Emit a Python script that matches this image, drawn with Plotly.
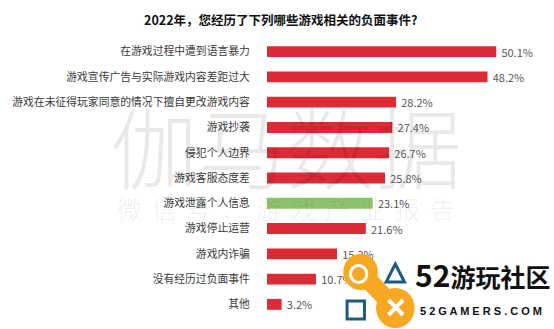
import plotly.graph_objects as go

categories = [
    "在游戏过程中遭到语言暴力",
    "游戏宣传广告与实际游戏内容差距过大",
    "游戏在未征得玩家同意的情况下擅自更改游戏内容",
    "游戏抄袭",
    "侵犯个人边界",
    "游戏客服态度差",
    "游戏泄露个人信息",
    "游戏停止运营",
    "游戏内诈骗",
    "没有经历过负面事件",
    "其他",
]
values = [50.1, 48.2, 28.2, 27.4, 26.7, 25.8, 23.1, 21.6, 15.3, 10.7, 3.2]
highlight = "游戏泄露个人信息"
title_text = "2022年，您经历了下列哪些游戏相关的负面事件?"

RED = "#DC2A37"
GREEN = "#8DC26A"
colors = [GREEN if c == highlight else RED for c in categories]

FONT = "Noto Sans CJK SC"
W, H = 554, 329
ML, MR, MT, MB = 257, 13, 39, 12
PW, PH = W - ML - MR, H - MT - MB


def px(x):
    return (x - ML) / PW


def py(y):
    return (H - MB - y) / PH


fig = go.Figure(
    go.Bar(
        x=values,
        y=categories,
        orientation="h",
        width=0.43,
        marker=dict(color=colors, line=dict(width=0)),
        text=["\u2009" + f"{v:.1f}%" for v in values],
        textposition="outside",
        constraintext="none",
        cliponaxis=False,
        textfont=dict(family=FONT, size=11, color="#555555"),
        hoverinfo="skip",
    )
)

fig.update_layout(
    width=W,
    height=H,
    margin=dict(l=ML, r=MR, t=MT, b=MB, pad=0),
    paper_bgcolor="white",
    plot_bgcolor="white",
    showlegend=False,
    xaxis=dict(range=[0, PW / 4.742], visible=False, fixedrange=True),
    yaxis=dict(
        autorange="reversed",
        showgrid=False,
        zeroline=False,
        showline=False,
        ticks="outside",
        ticklen=14,
        tickcolor="rgba(0,0,0,0)",
        tickfont=dict(family=FONT, size=10.8, color="#3a3a3a"),
        fixedrange=True,
    ),
)

anns = []
anns.append(dict(
    text=f"<b>{title_text}</b>", x=px(271), y=py(20), xref="paper", yref="paper",
    xanchor="center", yanchor="middle", showarrow=False,
    font=dict(family=FONT, size=12.5, color="#111111"),
))

# watermark
WM = "rgba(0,0,0,0.085)"
anns.append(dict(
    text="伽马数据", x=px(276.5), y=py(143), xref="paper", yref="paper",
    xanchor="center", yanchor="middle", showarrow=False,
    font=dict(family=FONT, size=88, color=WM, weight=300),
))
sub = "微信号：游戏产业报告"
for i, ch in enumerate(sub):
    anns.append(dict(
        text=ch, x=px(114.5 + 36 * i), y=py(208), xref="paper", yref="paper",
        xanchor="center", yanchor="middle", showarrow=False,
        font=dict(family=FONT, size=25, color=WM, weight=300),
    ))

# logo
ORANGE = "#F6A823"
BLUE = "#1D5A82"
shapes = []


def circ(cx, cy, r, fill, line_color=None, lw=0):
    shapes.append(dict(
        type="circle", xref="paper", yref="paper",
        x0=px(cx - r), x1=px(cx + r), y0=py(cy + r), y1=py(cy - r),
        fillcolor=fill, line=dict(color=line_color or fill, width=lw), layer="above",
    ))


def line(x0, y0, x1, y1, color, lw):
    shapes.append(dict(
        type="line", xref="paper", yref="paper",
        x0=px(x0), y0=py(y0), x1=px(x1), y1=py(y1),
        line=dict(color=color, width=lw), layer="above",
    ))


circ(354, 272, 18, ORANGE)
circ(390, 308, 20, ORANGE)
line(354, 272, 390, 308, ORANGE, 18)
circ(352, 274, 8.5, ORANGE, "white", 3)
line(383, 300, 398, 315, "white", 4)
line(398, 300, 383, 315, "white", 4)
# triangle
path = "M {} {} L {} {} L {} {} Z".format(px(390), py(264), px(380.5), py(282), px(399.5), py(282))
shapes.append(dict(type="path", path=path, xref="paper", yref="paper",
                   line=dict(color=BLUE, width=3), layer="above"))
shapes.append(dict(type="rect", xref="paper", yref="paper",
                   x0=px(340), x1=px(358), y0=py(319), y1=py(301),
                   line=dict(color=BLUE, width=3), layer="above"))

anns.append(dict(
    text="<b><span style='font-size:30px'>52</span>游玩社区</b>",
    x=px(408), y=py(274), xref="paper", yref="paper",
    xanchor="left", yanchor="middle", showarrow=False,
    font=dict(family=FONT, size=25, color="#111111", weight=900),
))
anns.append(dict(
    text="<b>5 2 G A M E R S . C O M</b>",
    x=px(414), y=py(311), xref="paper", yref="paper",
    xanchor="left", yanchor="middle", showarrow=False,
    font=dict(family="Liberation Sans", size=11, color="#111111"),
))

fig.update_layout(annotations=anns, shapes=shapes)
fig.write_html("out.html")
